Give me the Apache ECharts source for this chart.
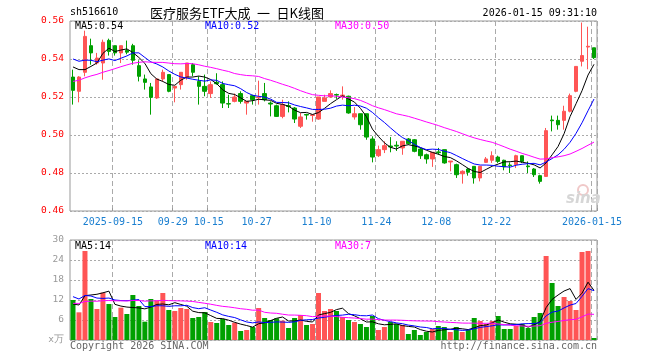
<!DOCTYPE html>
<html><head><meta charset="utf-8">
<script src="https://cdn.jsdelivr.net/npm/echarts@6/dist/echarts.min.js"></script>
<style>html,body{margin:0;padding:0;background:#fff}#c{width:660px;height:360px}</style>
</head><body><div id="c"></div>
<script>
// ---------- data ----------
const dates = [
'2025-09-04','2025-09-05','2025-09-08','2025-09-09','2025-09-10','2025-09-11','2025-09-12',
'2025-09-15','2025-09-16','2025-09-17','2025-09-18','2025-09-19','2025-09-22','2025-09-23','2025-09-24','2025-09-25','2025-09-26','2025-09-29','2025-09-30',
'2025-10-09','2025-10-10','2025-10-13','2025-10-14','2025-10-15','2025-10-16','2025-10-17','2025-10-20','2025-10-21','2025-10-22','2025-10-23','2025-10-24','2025-10-27','2025-10-28','2025-10-29','2025-10-30','2025-10-31',
'2025-11-03','2025-11-04','2025-11-05','2025-11-06','2025-11-07','2025-11-10','2025-11-11','2025-11-12','2025-11-13','2025-11-14','2025-11-17','2025-11-18','2025-11-19','2025-11-20','2025-11-21','2025-11-24','2025-11-25','2025-11-26','2025-11-27','2025-11-28',
'2025-12-01','2025-12-02','2025-12-03','2025-12-04','2025-12-05','2025-12-08','2025-12-09','2025-12-10','2025-12-11','2025-12-12','2025-12-15','2025-12-16','2025-12-17','2025-12-18','2025-12-19','2025-12-22','2025-12-23','2025-12-24','2025-12-25','2025-12-26','2025-12-29','2025-12-30','2025-12-31',
'2026-01-05','2026-01-06','2026-01-07','2026-01-08','2026-01-09','2026-01-12','2026-01-13','2026-01-14','2026-01-15'];

const opens = [0.5305,0.523,0.533,0.547,0.5379,0.5379,0.5498,0.547,0.5432,0.5445,
0.547,0.5365,0.5295,0.5253,0.5195,0.5295,0.5318,0.5247,0.5265,0.5305,
0.537,0.5282,0.5256,0.5218,0.5277,0.5265,0.5165,0.5177,0.5218,0.5168,
0.5207,0.5196,0.5218,0.5168,0.5154,0.5098,0.5154,0.5142,0.5046,0.5108,
0.5103,0.5084,0.5177,0.52,0.5213,0.5205,0.5204,0.5095,0.5112,0.5112,
0.4979,0.4891,0.4923,0.4942,0.4946,0.4932,0.4979,0.4975,0.4926,0.4896,
0.4874,0.4911,0.4923,0.4858,0.4844,0.4796,0.4821,0.4835,0.4774,0.4856,
0.4867,0.4884,0.4867,0.4842,0.4844,0.4891,0.4837,0.4821,0.4786,0.4782,
0.5079,0.5077,0.5077,0.5125,0.523,0.5388,0.5463,0.5459];
const closes = [0.5235,0.5305,0.5519,0.5432,0.5405,0.5488,0.544,0.5432,0.547,0.5436,
0.5393,0.5309,0.5277,0.5198,0.5295,0.533,0.523,0.5256,0.533,0.5379,
0.533,0.5256,0.523,0.5265,0.527,0.5168,0.5163,0.52,0.5177,0.5177,
0.5186,0.52,0.5186,0.5163,0.5098,0.516,0.515,0.5084,0.5095,0.5105,
0.5106,0.52,0.5195,0.5218,0.521,0.521,0.5116,0.5112,0.5054,0.4989,
0.4884,0.4923,0.4944,0.4937,0.4942,0.4967,0.4954,0.4914,0.4891,0.4874,
0.4909,0.4907,0.4853,0.4863,0.4791,0.4809,0.4804,0.4774,0.4835,0.4874,
0.4891,0.4861,0.4832,0.4839,0.4891,0.4861,0.4833,0.4791,0.4756,0.5023,
0.5075,0.5054,0.5125,0.5207,0.5361,0.5418,0.5467,0.5407];
const lows = [0.516,0.5172,0.5309,0.537,0.537,0.5291,0.5418,0.5418,0.5379,0.5425,
0.537,0.5282,0.5239,0.5107,0.519,0.5282,0.5225,0.5172,0.5239,0.5291,
0.5309,0.516,0.5204,0.5195,0.5265,0.5142,0.5142,0.5172,0.5165,0.5107,
0.516,0.516,0.5177,0.5098,0.5095,0.5088,0.5119,0.5063,0.5037,0.5081,
0.507,0.508,0.5177,0.5195,0.519,0.5186,0.5112,0.5081,0.5028,0.4975,
0.4856,0.4884,0.4905,0.4909,0.4916,0.4896,0.4949,0.4909,0.4874,0.4849,
0.4832,0.4896,0.4849,0.4809,0.4774,0.4744,0.4786,0.4744,0.4756,0.4853,
0.4853,0.4853,0.4814,0.48,0.4826,0.4853,0.48,0.4779,0.4744,0.4779,
0.5019,0.5028,0.5028,0.5119,0.5225,0.5361,0.5346,0.54];
const highs = [0.5344,0.531,0.5549,0.5507,0.5432,0.5502,0.5507,0.547,0.547,0.5497,
0.548,0.5393,0.5318,0.5274,0.5295,0.5344,0.5318,0.5256,0.533,0.5379,
0.5379,0.5309,0.5318,0.5282,0.5325,0.5282,0.5212,0.5218,0.523,0.5177,
0.5212,0.5286,0.5274,0.5177,0.516,0.5186,0.5177,0.5147,0.5116,0.5112,
0.5108,0.52,0.5212,0.5235,0.5218,0.5256,0.5207,0.5147,0.5112,0.5112,
0.4993,0.4944,0.4967,0.4989,0.4967,0.4967,0.4984,0.4979,0.4932,0.4902,
0.4909,0.4932,0.4923,0.4863,0.4849,0.4814,0.4826,0.4835,0.4835,0.4884,
0.4914,0.4891,0.487,0.4856,0.4896,0.4891,0.4861,0.4826,0.4791,0.5037,
0.5102,0.5102,0.5154,0.5218,0.5361,0.5592,0.557,0.5459];
const volumes = [12.0,8.3,26.7,12.3,9.3,14.2,10.8,6.9,9.7,7.8,
13.5,10.2,5.5,12.3,11.9,14.1,9.0,8.7,9.6,9.3,
6.6,6.9,8.4,5.4,5.1,6.3,4.5,5.2,2.7,3.0,
3.9,9.6,6.6,6.0,6.5,5.8,3.6,6.6,7.5,4.5,
4.8,14.1,8.7,9.3,8.7,6.9,6.0,5.4,4.8,3.9,
7.2,3.0,3.9,5.4,4.8,4.5,1.8,3.0,1.5,2.4,
3.3,4.2,3.9,2.4,3.9,2.4,3.0,6.6,5.7,4.8,
5.7,7.2,3.3,3.3,4.2,4.8,3.6,6.9,8.1,25.2,
17.1,10.2,12.9,11.7,9.0,26.4,26.7,0.6];
// closes / volumes of the 29 sessions before the window (estimated from the MA lines' starting levels)
const priorCloses = [0.512,0.514,0.513,0.516,0.515,0.517,0.514,0.516,0.515,0.513,0.517,0.518,
0.528,0.531,0.534,0.533,0.536,0.535,0.533,0.536,
0.5425,0.546,0.544,0.548,0.5405,0.5375,0.552,0.5347,0.5314];
const priorVolumes = [9.1,9.8,8.7,10.2,9.5,8.9,9.6,10.1,9.0,9.1,
10.4,11.2,9.8,10.9,10.1,11.5,10.3,10.6,11.0,10.2,
15.3,16,14,15.5,15.2,9.8,12.7,11.3,8.2];
const dateLabels = {'2025-09-15':'2025-09-15','2025-09-29':'09-29','2025-10-15':'10-15','2025-10-27':'10-27',
'2025-11-10':'11-10','2025-11-24':'11-24','2025-12-08':'12-08','2025-12-22':'12-22','2026-01-15':'2026-01-15'};
const priceTicks = {min:0.46, max:0.56, step:0.02};
const volTicks = {min:0, max:30, step:6};
const titleText = '医疗服务ETF大成\u2002一\u2002日K线图';
const codeText = 'sh516610';
const timeText = '2026-01-15 09:31:10';

// ---------- helpers ----------
function ma(arr, prior, n){
  const all = prior.concat(arr), off = prior.length;
  return arr.map((_, i) => { let s = 0; for (let k = 0; k < n; k++) s += all[off + i - k]; return +(s / n).toFixed(5); });
}
const RED = '#ff5555', GREEN = '#00a000';
const kData = dates.map((d, i) => [opens[i], closes[i], lows[i], highs[i]]);
const volData = volumes.map((v, i) => ({value: v, itemStyle: {color: closes[i] >= opens[i] ? RED : GREEN}}));
const ma5 = ma(closes, priorCloses, 5), ma10 = ma(closes, priorCloses, 10), ma30 = ma(closes, priorCloses, 30);
const vma5 = ma(volumes, priorVolumes, 5), vma10 = ma(volumes, priorVolumes, 10), vma30 = ma(volumes, priorVolumes, 30);
const isMark = (idx) => dateLabels[dates[idx]] !== undefined;
const MONO = 'DejaVu Sans Mono';

function lineS(data, color, xi, yi){
  return {type:'line', xAxisIndex:xi, yAxisIndex:yi, data, symbol:'none', smooth:false, z:5,
    lineStyle:{color, width:1}, itemStyle:{color}, silent:true};
}
const last = a => a[a.length - 1];

const xBase = (gi, showLabel) => ({
  type:'category', gridIndex:gi, data:dates, boundaryGap:true,
  axisLine:{show:false},
  axisTick:{show:showLabel, inside:true, length:3, interval:isMark, lineStyle:{color:'#999'}},
  axisLabel:{show:showLabel, interval:isMark, formatter:v => dateLabels[v] || '', color:'#1a7fd0',
    fontFamily:MONO, fontSize:10, margin:6, padding:[0,4,0,0]},
  splitLine:{show:true, interval:isMark, lineStyle:{color:'#aaa', type:[5,3], width:1}}
});

const option = {
  animation:false,
  backgroundColor:'#fff',
  grid:[
    {left:70, right:63, top:21, height:190, show:true, borderColor:'#999', borderWidth:1},
    {left:70, right:63, top:240, height:100, show:true, borderColor:'#999', borderWidth:1}
  ],
  xAxis:[xBase(0, true), xBase(1, false)],
  yAxis:[
    {type:'value', gridIndex:0, min:priceTicks.min, max:priceTicks.max, interval:priceTicks.step,
      axisLine:{show:false}, axisTick:{show:false},
      axisLabel:{color:'#ff0000', fontFamily:MONO, fontSize:9.5, margin:6, formatter:v => v.toFixed(2)},
      splitLine:{lineStyle:{color:'#aaa', type:[2,2], width:1}}},
    {type:'value', gridIndex:1, min:volTicks.min, max:volTicks.max, interval:volTicks.step,
      axisLine:{show:false}, axisTick:{show:false},
      axisLabel:{color:'#999', fontFamily:MONO, fontSize:9.5, margin:6, formatter:v => v === 0 ? 'x万' : String(v)},
      splitLine:{lineStyle:{color:'#aaa', type:[2,2], width:1}}}
  ],
  series:[
    {type:'candlestick', xAxisIndex:0, yAxisIndex:0, data:kData, barWidth:4, silent:true,
      itemStyle:{color:RED, color0:GREEN, borderColor:RED, borderColor0:GREEN, borderWidth:1}},
    lineS(ma5, '#000000', 0, 0), lineS(ma10, '#0000ff', 0, 0), lineS(ma30, '#ff00ff', 0, 0),
    {type:'bar', xAxisIndex:1, yAxisIndex:1, data:volData, barWidth:5, silent:true},
    lineS(vma5, '#000000', 1, 1), lineS(vma10, '#0000ff', 1, 1), lineS(vma30, '#ff00ff', 1, 1)
  ],
  graphic:[
    {type:'text', left:70, top:7, style:{text:codeText, font:'10px ' + MONO, fill:'#000'}},
    {type:'text', x:237, y:13, style:{text:titleText, font:'13px "Noto Sans CJK SC"', fill:'#000', align:'center', verticalAlign:'middle'}},
    {type:'text', x:597, y:13, style:{text:timeText, font:'10px ' + MONO, fill:'#000', align:'right', verticalAlign:'middle'}},
    {type:'text', x:75, y:26, z:10, style:{text:'MA5:' + last(ma5).toFixed(2), font:'10px ' + MONO, fill:'#000', verticalAlign:'middle'}},
    {type:'text', x:205, y:26, z:10, style:{text:'MA10:' + last(ma10).toFixed(2), font:'10px ' + MONO, fill:'#0000ff', verticalAlign:'middle'}},
    {type:'text', x:335, y:26, z:10, style:{text:'MA30:' + last(ma30).toFixed(2), font:'10px ' + MONO, fill:'#ff00ff', verticalAlign:'middle'}},
    {type:'text', x:75, y:246, z:10, style:{text:'MA5:' + Math.floor(last(vma5)), font:'10px ' + MONO, fill:'#000', verticalAlign:'middle'}},
    {type:'text', x:205, y:246, z:10, style:{text:'MA10:' + Math.floor(last(vma10)), font:'10px ' + MONO, fill:'#0000ff', verticalAlign:'middle'}},
    {type:'text', x:335, y:246, z:10, style:{text:'MA30:' + Math.floor(last(vma30)), font:'10px ' + MONO, fill:'#ff00ff', verticalAlign:'middle'}},
    {type:'text', x:70, y:346, style:{text:'Copyright 2026 SINA.COM', font:'10px ' + MONO, fill:'#666', verticalAlign:'middle'}},
    {type:'text', x:597, y:346, style:{text:'http://finance.sina.com.cn', font:'10px ' + MONO, fill:'#666', align:'right', verticalAlign:'middle'}},
    {type:'circle', shape:{cx:583, cy:190, r:5}, z:1, style:{fill:'none', stroke:'#f0c8c8', lineWidth:2}},
    {type:'text', x:566, y:199, z:1, style:{text:'sina', font:'italic bold 15px "DejaVu Sans"', fill:'#d6d6d6', verticalAlign:'middle'}}
  ]
};
const chart = echarts.init(document.getElementById('c'), null, {renderer:'canvas'});
chart.setOption(option);
</script>
</body></html>
